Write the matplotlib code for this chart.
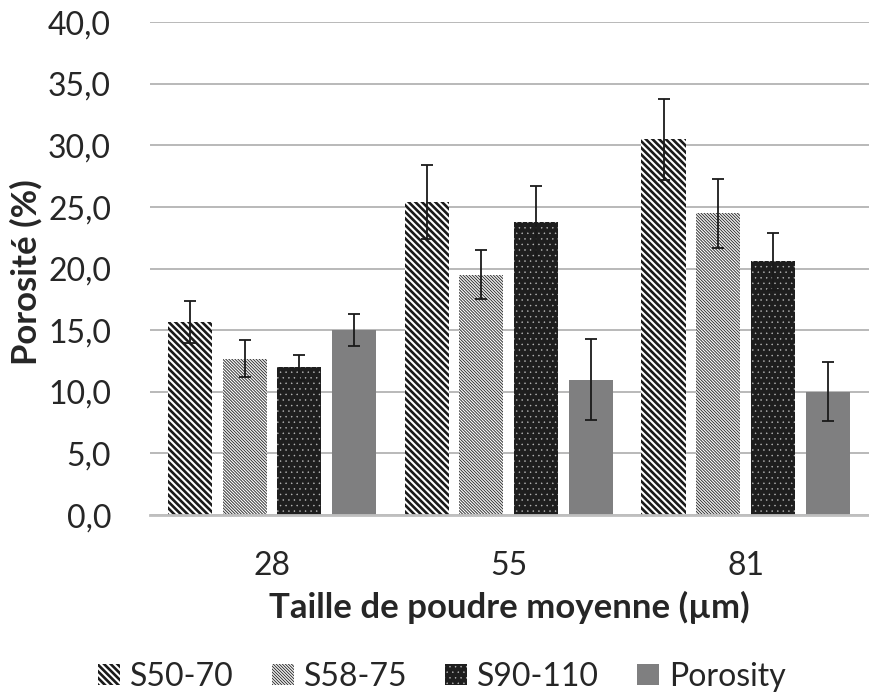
import matplotlib
matplotlib.use("Agg")
import matplotlib.pyplot as plt
import numpy as np

categories = ["28", "55", "81"]
series = ["S50-70", "S58-75", "S90-110", "Porosity"]
s50_70 = [15.7, 25.4, 30.5]
s50_70_err = [1.7, 3.0, 3.3]
s58_75 = [12.7, 19.5, 24.5]
s58_75_err = [1.5, 2.0, 2.8]
s90_110 = [12.0, 23.8, 20.6]
s90_110_err = [1.0, 2.9, 2.3]
porosity = [15.0, 11.0, 10.0]
porosity_err = [1.3, 3.3, 2.4]
yticks = [0, 5, 10, 15, 20, 25, 30, 35, 40]
ytick_labels = ["0,0", "5,0", "10,0", "15,0", "20,0", "25,0", "30,0", "35,0", "40,0"]

plt.rcParams['font.family'] = ['Lato', 'DejaVu Sans']

BS = chr(92)

fig = plt.figure(figsize=(8.7, 6.97), dpi=100)
ax = fig.add_axes([0.1724, 0.261, 0.826, 0.707])

x = np.arange(len(categories))
step = 0.231
width = 0.186
offsets = [-1.5 * step, -0.5 * step, 0.5 * step, 1.5 * step]

styles = [
    dict(facecolor="white", edgecolor="#1a1a1a", hatch=BS * 5, hlw=1.9),
    dict(facecolor="white", edgecolor="#333333", hatch=BS * 11, hlw=0.7),
    dict(facecolor="#1e1e1e", edgecolor="#bdbdbd", hatch="...", hlw=0.3),
    dict(facecolor="#7f7f80", edgecolor="#7f7f80", hatch=None, hlw=1.0),
]
values = [s50_70, s58_75, s90_110, porosity]
errors = [s50_70_err, s58_75_err, s90_110_err, porosity_err]

for i, (name, vals, errs, st) in enumerate(zip(series, values, errors, styles)):
    with plt.rc_context({'hatch.linewidth': st['hlw']}):
        ax.bar(x + offsets[i], vals, width, facecolor=st['facecolor'],
               edgecolor=st['edgecolor'], hatch=st['hatch'], linewidth=0,
               label=name, zorder=2)
    ax.errorbar(x + offsets[i], vals, yerr=errs, fmt='none', ecolor='#1a1a1a',
                elinewidth=1.3, capsize=4, capthick=1.3, zorder=3)

ax.set_xlim(-0.516, 2.52)
ax.set_ylim(0, 40)
ax.set_yticks(yticks)
ax.set_yticklabels(ytick_labels)
ax.set_xticks(x)
ax.set_xticklabels(categories)
ax.yaxis.grid(True, color="#b3b3b3", linewidth=1.3, zorder=0)
ax.set_axisbelow(True)
for s in ["top", "right", "left"]:
    ax.spines[s].set_visible(False)
ax.spines["bottom"].set_color("#bfbfbf")
ax.spines["bottom"].set_linewidth(2)
ax.tick_params(axis='both', length=0, labelsize=23, colors="#262626")
ax.tick_params(axis='y', pad=28)
ax.tick_params(axis='x', pad=26)

ax.set_ylabel("Porosité (%)", fontsize=25, fontweight='bold', color="#262626")
ax.set_xlabel("Taille de poudre moyenne (µm)", fontsize=25, fontweight='bold', color="#262626")
ax.yaxis.set_label_coords(-0.1726, 0.493)
ax.yaxis.label.set_va('center')
ax.xaxis.set_label_coords(0.5, -0.1867)
ax.xaxis.label.set_va('center')

leg = fig.legend(loc='center', bbox_to_anchor=(0.508, 0.0287), ncol=4, frameon=False,
                 fontsize=23, handlelength=0.69, handleheight=0.63, handletextpad=0.31,
                 columnspacing=1.19, labelcolor="#262626", borderaxespad=0, borderpad=0)
for h, st in zip(leg.legend_handles, styles):
    if hasattr(h, "set_hatch_linewidth"):
        h.set_hatch_linewidth(st['hlw'])

fig.savefig("out.png", dpi=100)
